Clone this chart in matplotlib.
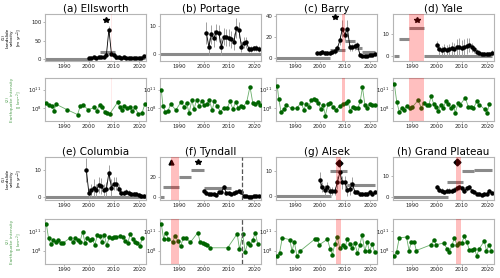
import matplotlib.pyplot as plt

# ---------------- landslide velocity [m/yr] ----------------
ells_years = list(range(2000, 2023))
ells_vel = [2, 4, 5, 4, 6, 5, 6, 12, 80, 15, 10, 6, 5, 4, 5, 4, 3, 4, 3, 4, 3, 4, 8]
ells_err = [2, 2, 2, 2, 2, 2, 2, 3, 10, 4, 3, 3, 2, 2, 2, 2, 2, 2, 2, 2, 2, 2, 3]
ells_steps = [(1982.5, 2000, 0), (2004.5, 2010.5, 19), (2010.5, 2022.5, 2)]
ells_star = (2006.8, 107)

port_years = list(range(2001, 2023))
port_vel = [7.6, 2.6, 7, 5.6, 7.7, 7.4, 2.6, 6.2, 6, 5.9, 5.2, 4.4, 9.2, 8.6, 2.6, 4, 4.2,
            1.7, 1.8, 2, 2.2, 1.8]
port_err = [4, 3, 3.5, 3, 3, 3, 3, 3, 3, 3, 3, 3, 3.5, 3, 2, 2, 2, 1, 1, 1, 1, 1]
port_steps = [(1982.5, 2022.8, 0)]

barry_years = list(range(1999, 2023))
barry_vel = [5, 5, 5.5, 5, 5, 5, 6, 7, 9, 17, 28, 22, 28, 10, 10, 11, 12, 3, 2, 2, 2, 3, 3, 4]
barry_err = [2, 2, 2, 2, 2, 2, 2, 3, 3, 5, 8, 6, 8, 3, 3, 3, 3, 1.5, 1, 1, 1, 1, 1, 1.5]
barry_steps = [(1982.5, 2004, 0), (2004, 2010, 8), (2010, 2014, 16), (2014, 2017, 9),
               (2017, 2022, 6)]
barry_star = (2006, 39)

yale_years = list(range(2000, 2023))
yale_vel = [4.8, 3, 2.5, 3, 2.5, 3, 3.5, 3, 4, 4, 3.5, 4, 4.5, 5, 4, 3, 2, 1.5, 1, 0.8, 1,
            0.8, 1.5]
yale_err = [2, 2.5, 2, 2.5, 2.5, 2.5, 3, 3, 3.5, 4, 3.5, 3.5, 3.5, 3, 2, 1.5, 1, 1, 0.8,
            0.8, 0.8, 0.8, 1]
yale_steps = [(1983, 1985, 0), (1985, 1989, 7.7), (1989, 1995, 12.6), (1995, 2022, 0)]
yale_star = (1992, 16.5)

col_years = list(range(1999, 2023))
col_vel = [10, 1.5, 2.5, 3.5, 2.5, 4.5, 4, 2.5, 3, 9, 3.5, 5, 5, 3, 1.5, 1.5, 2, 1.5, 1,
           1, 1.2, 0.8, 0.5, 0.5]
col_err = [4.5, 2, 2.5, 3, 2.5, 3, 3, 2.5, 2.5, 3, 3, 2.5, 2.5, 2, 1, 1, 1, 1, 0.8, 0.8,
           0.8, 0.6, 0.5, 0.5]
col_steps = [(1982.5, 2022.8, 0)]

tynd_years = list(range(2000, 2023))
tynd_vel = [6, 4, 3.5, 3, 3, 2.5, 5, 5, 10, 4, 4, 3.5, 4, 5, 6, 5, 1, 1, 0.5, 0.5, 1, 1, 1.5]
tynd_err = [1.5, 1.5, 1.5, 1.5, 1.5, 1.5, 1.5, 1.5, 2, 1.5, 1.5, 1.5, 1.5, 1.5, 1.5, 1.5,
            0.8, 0.8, 0.8, 0.8, 0.8, 0.8, 0.8]
tynd_steps = [(1982.5, 1984, 0), (1983.5, 1990, 10), (1990, 1995, 20), (1995, 2000, 26),
              (2000, 2011, 9), (2015.5, 2022.8, 1)]
tynd_star = (1997.6, 34.5)
tynd_triangle = (1986.8, 34.5)
tynd_dashed = 2015.2

alsek_years = list(range(2000, 2023))
alsek_vel = [6.4, 3.5, 2.5, 3.5, 2, 2, 2, 5.5, 9.5, 5.5, 5.5, 2.5, 3, 5, 1.5, 1.5, 1, 1, 1,
             1, 1.5, 1, 1.5]
alsek_err = [3, 2, 2, 2, 1.5, 1.5, 1.5, 2.5, 3, 2.5, 2.5, 2.5, 2.5, 2.5, 0.8, 0.8, 0.8,
             0.8, 0.8, 0.8, 0.8, 0.8, 0.8]
alsek_steps = [(1982.5, 2004.5, 0), (2004, 2011, 10), (2011, 2022, 4.3)]
alsek_diamond = (2007.5, 13.3)

gp_years = list(range(2000, 2023))
gp_vel = [4.6, 3.5, 3, 2.5, 3, 3, 3, 3.5, 4, 4.5, 4, 3, 4, 4.5, 3, 2.5, 1.5, 1.5, 1, 1.5,
          1.5, 3, 2]
gp_err = [1.2, 1, 1, 1, 1, 1, 1, 1, 1.2, 1.2, 1, 1, 1, 1, 0.8, 0.8, 0.6, 0.6, 0.6, 0.6,
          0.6, 0.8, 0.6]
gp_steps = [(1982.5, 2004.5, 0), (2004, 2010.5, 7.2), (2010, 2015, 12.2), (2015, 2022, 12.6)]
gp_diamond = (2008, 16.5)

# ---------------- earthquake intensity, log10 [J/km2] ----------------
ells_eq_years = [1983, 1984.1, 1985.1, 1986.1, 1986.9, 1991.3, 1995.5, 1996.6, 1997.6,
                 1999.7, 2002.2, 2003.1, 2004.3, 2005.2, 2006.3, 2007.3, 2008.3, 2011.5,
                 2012.4, 2013.3, 2014.1, 2015.2, 2016.3, 2017.4, 2018.4, 2019.8, 2021.2,
                 2022.3]
ells_eq = [8.8, 8.47, 8.4, 7.58, 8.63, 7.74, 6.95, 8.37, 8.53, 7.74, 8.1, 7.58, 8.53, 8.26,
           7.42, 7.2, 7.05, 8.95, 8.1, 7.68, 8.32, 7.95, 8.1, 7.47, 8.1, 7.05, 7.2, 8.6]

port_eq_years = [1983, 1983.7, 1984.6, 1985.7, 1986.8, 1988.8, 1991, 1992.1, 1993.1,
                 1994.1, 1995.2, 1996.1, 1997.1, 1998.1, 1999.2, 2000.2, 2001.2, 2002.2,
                 2003.3, 2004.2, 2005.3, 2006.6, 2008, 2009.4, 2010.4, 2011.6, 2012.7,
                 2013.7, 2014.8, 2015.7, 2017.1, 2018.4, 2019.5, 2020.4, 2021.5, 2022.5]
port_eq = [11.0, 8.32, 7.42, 7.58, 8.68, 7.68, 9.06, 8.21, 8.9, 7.16, 9.32, 7.84, 9.37,
           8.37, 9.21, 8.47, 8.68, 9.26, 7.68, 9.1, 8.37, 7.42, 8.05, 8.05, 9.1, 7.84, 9.0,
           8.05, 8.37, 8.21, 9.0, 11.5, 8.9, 8.68, 9.0, 8.47]

barry_eq_years = [1983, 1983.6, 1984.5, 1985.6, 1986.6, 1988.8, 1990.7, 1992.6, 1993.6,
                  1994.5, 1995.6, 1996.5, 1997.5, 1998.4, 1999.4, 2000.3, 2001.3, 2002.2,
                  2003.3, 2004.2, 2005.2, 2006.3, 2008, 2009.3, 2010.3, 2011.2, 2012.2,
                  2013.1, 2014.2, 2015.1, 2016.1, 2017, 2018, 2018.9, 2019.9, 2020.8, 2022]
barry_eq = [11.6, 9.53, 7.42, 7.79, 8.47, 7.95, 7.95, 8.9, 7.68, 8.73, 8.21, 9.26, 9.42,
            9.26, 8.9, 7.84, 8.47, 6.79, 8.73, 8.9, 8.21, 7.68, 8.37, 8.73, 8.9, 9.1, 7.58,
            8.21, 7.95, 7.95, 9.1, 11.37, 8.47, 7.95, 8.73, 8.58, 8.5]

yale_eq_years = [1983, 1984, 1985, 1986, 1986.9, 1987.9, 1989.2, 1990.1, 1992.5, 1993.8,
                 1994.8, 1995.9, 1996.8, 1997.7, 1998.7, 1999.6, 2000.5, 2001.6, 2002.6,
                 2003.5, 2004.6, 2005.5, 2006.5, 2007.4, 2008.5, 2009.4, 2011.3, 2012.6,
                 2013.6, 2014.6, 2015.9, 2016.9, 2019.1, 2020, 2021]
yale_eq = [12.0, 9.0, 7.42, 7.95, 7.68, 8.37, 7.95, 8.1, 9.26, 8.05, 8.9, 8.47, 8.47, 9.95,
           8.73, 8.21, 7.58, 8.47, 7.95, 9.1, 8.73, 7.95, 8.37, 7.26, 8.9, 8.58, 9.68, 8.21,
           8.21, 7.95, 9.1, 8.58, 7.79, 7.16, 8.73]

col_eq_years = [1983, 1983.9, 1984.9, 1985.8, 1986.9, 1987.8, 1988.7, 1989.7, 1992.5,
                1993.6, 1994.6, 1995.5, 1996.5, 1997.5, 1998.5, 1999.4, 2000.4, 2001.3,
                2002.4, 2003.4, 2004.3, 2005.2, 2006.2, 2007.1, 2008.2, 2009.1, 2010, 2011,
                2012.3, 2013.6, 2014.6, 2015.5, 2016.5, 2017.5, 2018.5, 2019.4, 2020.4,
                2021.3]
col_eq = [12.2, 9.96, 8.95, 9.58, 9.32, 9.58, 9.16, 9.16, 9.96, 9.32, 9.96, 9.69, 9.4, 10.9,
          9.16, 9.96, 9.58, 9.74, 8.9, 10.37, 10.2, 9.32, 10.37, 8.79, 10.1, 9.96, 10.1,
          10.1, 10.2, 10.1, 9.42, 9.16, 10.5, 9.85, 9.32, 9.16, 8.69, 9.96]

tynd_eq_years = [1983, 1983.9, 1984.7, 1985.8, 1987.5, 1988.5, 1989.7, 1990.7, 1991.8,
                 1992.7, 1994.6, 1997.6, 1998.5, 1999.5, 2000.4, 2001.1, 2002.6, 2009.5,
                 2013.3, 2014.2, 2015.5, 2016.5, 2017.5, 2018.5, 2019.5, 2020.5, 2021.5]
tynd_eq = [12.2, 9.85, 10.8, 9.8, 9.32, 10.3, 9.42, 8.63, 9.96, 9.96, 9.26, 10.8, 9.32,
           9.1, 8.95, 8.85, 8.42, 8.42, 10.6, 8.2, 10.5, 7.8, 9.2, 8.8, 9.6, 10.8, 9.0]

alsek_eq_years = [1983, 1983.9, 1985, 1988, 1988.9, 1989.8, 1990.9, 1991.9, 1997.9, 1998.8,
                  1999.8, 2003, 2004.1, 2005, 2006, 2006.9, 2008, 2009.1, 2010.1, 2011,
                  2011.9, 2012.9, 2013.9, 2015, 2015.9, 2016.9, 2017.9, 2018.9, 2019.8,
                  2020.9, 2021.9]
alsek_eq = [7.2, 7.59, 9.96, 9.69, 7.9, 9.32, 7.1, 7.85, 9.74, 9.85, 8.9, 9.74, 8.27, 7.37,
            9.06, 10.1, 8.37, 8.79, 8.53, 9.85, 9.06, 8.37, 9.16, 7.59, 8.79, 10.48, 7.85,
            9.32, 7.85, 9.0, 7.74]

gp_eq_years = [1983, 1983.9, 1985, 1987.9, 1988.9, 1989.8, 1990.9, 1991.8, 1997.7, 1998.8,
               1999.7, 2002.7, 2004.1, 2005, 2006, 2007, 2008, 2009, 2010, 2010.9, 2011.9,
               2013, 2013.9, 2015, 2015.9, 2016.9, 2018.9, 2019.8, 2020.9, 2021.8]
gp_eq = [7.2, 7.74, 9.96, 10.1, 8.0, 9.32, 9.4, 8.0, 8.9, 9.69, 8.9, 9.16, 8.27, 7.8, 8.79,
         9.96, 8.9, 9.16, 9.2, 10.2, 9.32, 8.1, 8.15, 8.27, 7.2, 8.27, 9.45, 8.0, 8.9, 8.0]

# shaded event windows
ells_span = (2008.9, 2009.1)
barry_span = (2008.8, 2010.2)
yale_span = (1989, 1995)
tynd_span = (1986.7, 1990)
alsek_span = (2006.6, 2008.4)
gp_span = (2007.6, 2009.6)

panels = [
    dict(title="(a) Ellsworth", years=ells_years, vel=ells_vel, err=ells_err,
         steps=ells_steps, star=ells_star, span=ells_span, span_alpha=0.08,
         ylim=(-5, 122), yticks=[0, 50, 100], eq_years=ells_eq_years, eq=ells_eq),
    dict(title="(b) Portage", years=port_years, vel=port_vel, err=port_err,
         steps=port_steps, ylim=(-2.5, 14.3), yticks=[0, 10],
         eq_years=port_eq_years, eq=port_eq),
    dict(title="(c) Barry", years=barry_years, vel=barry_vel, err=barry_err,
         steps=barry_steps, star=barry_star, span=barry_span, ylim=(-3, 42),
         yticks=[0, 20, 40], eq_years=barry_eq_years, eq=barry_eq),
    dict(title="(d) Yale", years=yale_years, vel=yale_vel, err=yale_err,
         steps=yale_steps, star=yale_star, span=yale_span, ylim=(-2.3, 19),
         yticks=[0, 10], eq_years=yale_eq_years, eq=yale_eq),
    dict(title="(e) Columbia", years=col_years, vel=col_vel, err=col_err,
         steps=col_steps, ylim=(-1.1, 14.8), yticks=[0, 10],
         eq_years=col_eq_years, eq=col_eq),
    dict(title="(f) Tyndall", years=tynd_years, vel=tynd_vel, err=tynd_err,
         steps=tynd_steps, star=tynd_star, triangle=tynd_triangle, span=tynd_span,
         dashed=tynd_dashed, ylim=(-2.5, 39), yticks=[0, 20],
         eq_years=tynd_eq_years, eq=tynd_eq),
    dict(title="(g) Alsek", years=alsek_years, vel=alsek_vel, err=alsek_err,
         steps=alsek_steps, diamond=alsek_diamond, span=alsek_span, ylim=(-1.5, 15.5),
         yticks=[0, 10], eq_years=alsek_eq_years, eq=alsek_eq),
    dict(title="(h) Grand Plateau", years=gp_years, vel=gp_vel, err=gp_err,
         steps=gp_steps, diamond=gp_diamond, span=gp_span, ylim=(-1.5, 19),
         yticks=[0, 10], eq_years=gp_eq_years, eq=gp_eq),
]

W, H = 500, 278
col_left = [45, 160, 276, 393]
col_width = 101
row_box = [(14, 61), (78, 121), (157, 200), (219, 264)]
x_range = (1982.5, 2022.8)
tick_fs = 3.9
label_fs = 3.1
green_text = "#4f9f4f"


def make_axes(col, row):
    top, bottom = row_box[row]
    rect = [col_left[col] / W, 1 - bottom / H, col_width / W, (bottom - top) / H]
    ax = fig.add_axes(rect)
    for s in ax.spines.values():
        s.set_color("#b5b5b5")
        s.set_linewidth(0.8)
    ax.tick_params(labelsize=tick_fs, length=1.5, width=0.5, color="#999999", pad=1,
                   labelcolor="#222222")
    ax.set_xlim(*x_range)
    ax.set_xticks([1990, 2000, 2010, 2020])
    return ax


def shade(ax, p):
    if "span" in p:
        ax.axvspan(*p["span"], color="red", alpha=p.get("span_alpha", 0.25), lw=0, zorder=5)
    if "dashed" in p:
        ax.axvline(p["dashed"], color="#555555", ls="--", lw=0.9, zorder=4)


fig = plt.figure(figsize=(W / 100, H / 100), dpi=100)

for i, p in enumerate(panels):
    col = i % 4
    block = i // 4
    # landslide velocity
    ax = make_axes(col, 2 * block)
    for x0, x1, v in p["steps"]:
        ax.plot([x0, x1], [v, v], color="#8a8a8a", lw=2.2, solid_capstyle="butt", zorder=1)
    ax.errorbar(p["years"], p["vel"], yerr=p["err"], fmt="-o", color="black",
                ecolor="#a0a0a0", elinewidth=0.7, ms=2.2, lw=0.6, zorder=2)
    if "star" in p:
        ax.plot(*p["star"], marker="*", color="black", ms=4, zorder=3)
    if "triangle" in p:
        ax.plot(*p["triangle"], marker="^", color="black", ms=3.5, zorder=3)
    if "diamond" in p:
        ax.plot(*p["diamond"], marker="D", color="black", ms=3.5, zorder=3)
    shade(ax, p)
    ax.set_ylim(*p["ylim"])
    ax.set_yticks(p["yticks"])
    ax.set_title(p["title"], fontsize=7.5, pad=1.5)
    if col == 0:
        ax.set_ylabel("(1)\nLandslide\nvelocity\n[m yr$^{-1}$]", fontsize=label_fs,
                      linespacing=1.1)
        ax.yaxis.set_label_coords(-0.2, 0.5)

    # earthquake intensity
    ax = make_axes(col, 2 * block + 1)
    ax.set_yscale("log")
    ax.plot(p["eq_years"], [10 ** e for e in p["eq"]], "-", color="#6aae6a", lw=0.6,
            zorder=2)
    ax.plot(p["eq_years"], [10 ** e for e in p["eq"]], "o", color="darkgreen", ms=2.2,
            zorder=3)
    shade(ax, p)
    ax.set_ylim(10 ** 5.9, 10 ** 12.9)
    ax.set_yticks([1e8, 1e11])
    ax.yaxis.set_minor_locator(plt.NullLocator())
    if col == 0:
        ax.set_ylabel("(2)\nEarthquake intensity\n[J km$^{-2}$]", fontsize=label_fs,
                      color=green_text, linespacing=1.1)
        ax.yaxis.set_label_coords(-0.2, 0.5)

fig.savefig("out.png", dpi=100)
